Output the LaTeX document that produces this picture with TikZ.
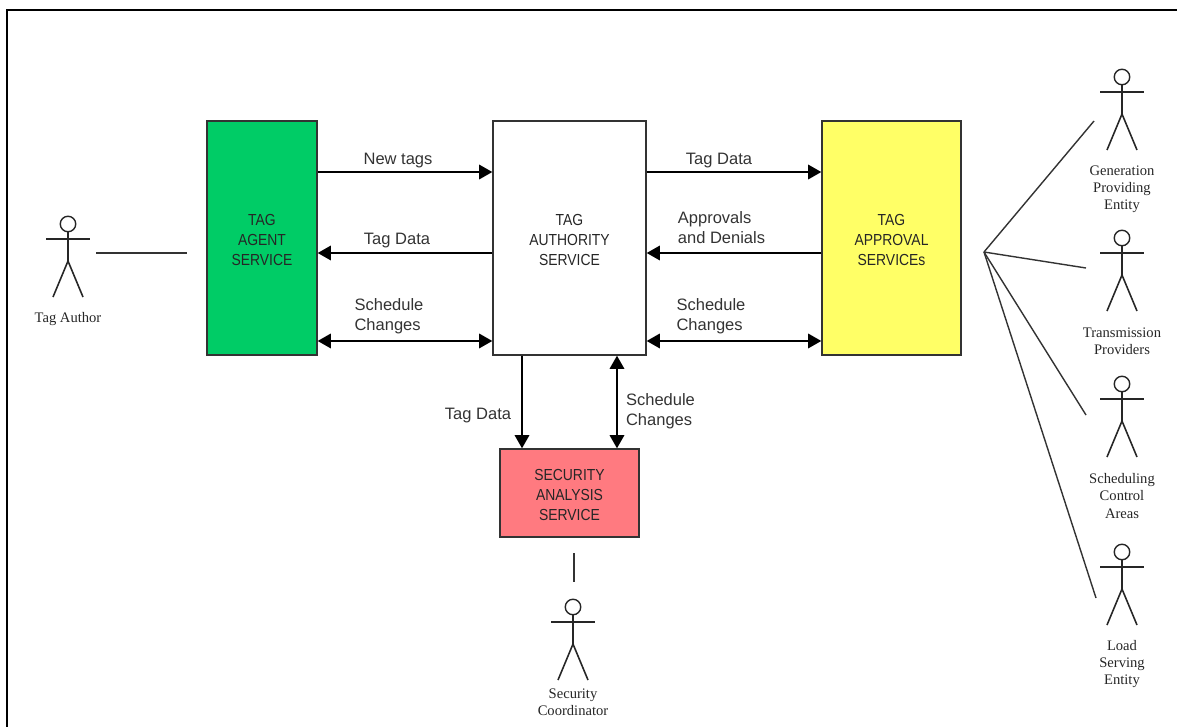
\documentclass[tikz,border=0pt]{standalone}
\usepackage{fontspec}
\setmainfont{Liberation Serif}
\setsansfont{Liberation Sans}
\newfontfamily\boxfont[FakeStretch=0.87]{Liberation Sans}
\definecolor{agentGreen}{HTML}{00CC66}
\definecolor{approvalYellow}{HTML}{FFFF66}
\definecolor{securityRed}{HTML}{FF7A80}
\definecolor{edgeGray}{HTML}{333333}
\usetikzlibrary{arrows.meta, positioning, calc}

% stick figure: name, head x, head y, label y, label text
\newcommand{\actor}[5]{
  \node[head] (#1) at (#2,#3) {};
  \draw[stick] (#2-22,#3+15) -- (#2+22,#3+15);
  \draw[stick] (#1.south) -- (#2,#3+37);
  \draw[stick] (#2-15,#3+73) -- (#2,#3+37) -- (#2+15,#3+73);
  \node[actorlabel] (#1-label) at (#2,#4) {#5};
}

\begin{document}
\begin{tikzpicture}[
    x=0.02cm, y=-0.02cm,
    box/.style={rectangle, draw=edgeGray, line width=0.7pt, align=center, inner sep=0pt, text=black!85, font=\boxfont\fontsize{9.1}{11.4}\selectfont, text height=1.11cm, text depth=0pt},
    head/.style={circle, draw=black!85, line width=0.8pt, minimum size=0.31cm, inner sep=0pt},
    stick/.style={draw=black!85, line width=0.9pt},
    link/.style={draw=edgeGray, line width=0.8pt},
    actorlabel/.style={align=center, inner sep=0pt, text=black!85, font=\fontsize{8.3}{9.8}\selectfont},
    arr/.style={-{Triangle[length=7.5pt,width=8pt]}, line width=1.6pt},
    biarr/.style={{Triangle[length=7.5pt,width=8pt]}-{Triangle[length=7.5pt,width=8pt]}, line width=1.6pt},
    lbl/.style={align=left, inner sep=0pt, text=black!80, font=\sffamily\fontsize{9.4}{11.4}\selectfont}
]
\useasboundingbox (0,0) rectangle (1177,727);

% Frame
\draw[line width=1.2pt] (7,727) -- (7,10) -- (1177,10);

% Services
\node[box, fill=agentGreen, minimum width=2.2cm, minimum height=4.68cm] (agent) at (262,238) {TAG\\AGENT\\SERVICE};
\node[box, fill=white, minimum width=3.06cm, minimum height=4.68cm] (authority) at (569.5,238) {TAG\\AUTHORITY\\SERVICE};
\node[box, fill=approvalYellow, minimum width=2.78cm, minimum height=4.68cm] (approval) at (891.5,238) {TAG\\APPROVAL\\SERVICEs};
\node[box, fill=securityRed, minimum width=2.78cm, minimum height=1.76cm] (security) at (569.5,493) {SECURITY\\ANALYSIS\\SERVICE};

% Arrows
\draw[arr] ([yshift=1.32cm]agent.east) -- ([yshift=1.32cm]authority.west);
\draw[arr] ([yshift=-0.3cm]authority.west) -- ([yshift=-0.3cm]agent.east);
\draw[biarr] ([yshift=-2.06cm]agent.east) -- ([yshift=-2.06cm]authority.west);
\draw[arr] ([yshift=1.32cm]authority.east) -- ([yshift=1.32cm]approval.west);
\draw[arr] ([yshift=-0.3cm]approval.west) -- ([yshift=-0.3cm]authority.east);
\draw[biarr] ([yshift=-2.06cm]authority.east) -- ([yshift=-2.06cm]approval.west);
\draw[arr] ([xshift=-0.95cm]authority.south) -- ([xshift=-0.95cm]security.north);
\draw[biarr] ([xshift=0.95cm]authority.south) -- ([xshift=0.95cm]security.north);

% Labels
\node[lbl] (newtags) at (398,161) {New tags};
\node[lbl] (agentdata) at (397,241) {Tag Data};
\node[lbl] (agentchanges) at (389,316) {Schedule\\Changes};
\node[lbl] (approvaldata) at (719,161) {Tag Data};
\node[lbl] (denials) at (721.5,227.5) {Approvals\\and Denials};
\node[lbl] (approvalchanges) at (711,316) {Schedule\\Changes};
\node[lbl] (securitydata) at (478,416) {Tag Data};
\node[lbl] (securitychanges) at (660.5,411) {Schedule\\Changes};

% Actors
\actor{author}{68}{224}{319}{Tag Author}
\actor{generation}{1122}{77}{189}{Generation\\Providing\\Entity}
\actor{transmission}{1122}{238}{341}{Transmission\\Providers}
\actor{scheduling}{1122}{384}{496}{Scheduling\\Control\\Areas}
\actor{load}{1122}{552}{664}{Load\\Serving\\Entity}
\actor{coordinator}{573}{607}{702}{Security\\Coordinator}

% Actor links
\coordinate (authorend) at (96,253);
\coordinate (agentend) at (187,253);
\coordinate (securityend) at (574,553);
\coordinate (coordinatorend) at (574,582);
\coordinate (hub) at (984,252);
\coordinate (generationend) at (1094,121);
\coordinate (transmissionend) at (1086,268);
\coordinate (schedulingend) at (1086,415);
\coordinate (loadend) at (1096,598);
\draw[link] (authorend) -- (agentend);
\draw[link] (securityend) -- (coordinatorend);
\foreach \target in {generationend, transmissionend, schedulingend, loadend}
  \draw[link] (hub) -- (\target);

\end{tikzpicture}
\end{document}
